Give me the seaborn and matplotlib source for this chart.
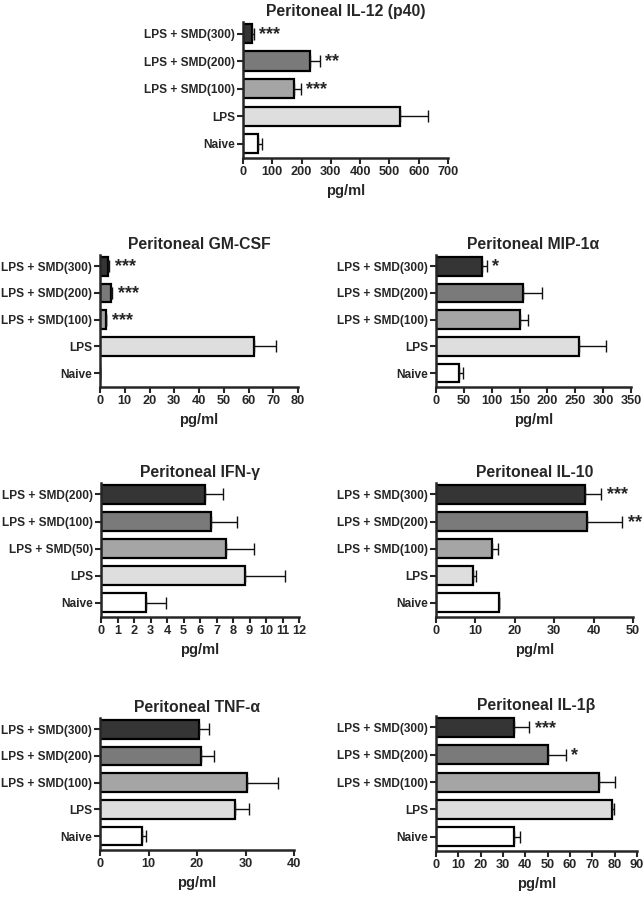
import matplotlib
matplotlib.use("Agg")
import numpy as np
import matplotlib.pyplot as plt
import seaborn as sns

sns.set_theme(style="ticks")
plt.rcParams['font.family'] = ['Liberation Sans', 'DejaVu Sans']
plt.rcParams['font.weight'] = 'bold'

# group names (top to bottom)
groups_smd = ['LPS + SMD(300)', 'LPS + SMD(200)', 'LPS + SMD(100)', 'LPS', 'Naive']
groups_ifn = ['LPS + SMD(200)', 'LPS + SMD(100)', 'LPS + SMD(50)', 'LPS', 'Naive']
bar_colors = ['#353535', '#7a7a7a', '#a5a5a5', '#dedede', '#ffffff']

# values (pg/ml), with upper SEM
il12_vals = [32, 230, 173, 535, 51]
il12_err = [4, 32, 24, 96, 15]
il12_stars = ['***', '**', '***', '', '']

gmcsf_vals = [3.4, 4.5, 2.3, 62.3, 0]
gmcsf_err = [0.4, 0.4, 0.3, 8.7, 0]
gmcsf_stars = ['***', '***', '***', '', '']

mip_vals = [82.6, 157, 150, 257, 40.7]
mip_err = [8.5, 33, 14.5, 48, 8.5]
mip_stars = ['*', '', '', '', '']

ifn_vals = [6.32, 6.67, 7.6, 8.75, 2.75]
ifn_err = [1.05, 1.6, 1.65, 2.4, 1.2]
ifn_stars = ['', '', '', '', '']

il10_vals = [37.9, 38.3, 14.2, 9.5, 16.0]
il10_err = [4.0, 8.9, 1.5, 0.7, 0]
il10_stars = ['***', '**', '', '', '']

tnf_vals = [20.4, 20.9, 30.3, 27.9, 8.7]
tnf_err = [2.0, 2.6, 6.4, 2.8, 0.7]
tnf_stars = ['', '', '', '', '']

il1b_vals = [34.9, 50.2, 73.0, 79.0, 35.0]
il1b_err = [6.8, 7.9, 7.2, 0.6, 2.5]
il1b_stars = ['***', '*', '', '', '']

W, H = 644, 900
fig = plt.figure(figsize=(W / 100, H / 100), dpi=100)

panels = [
    ('Peritoneal IL-12 (p40)', groups_smd, il12_vals, il12_err, il12_stars, 700, 100, (243, 22, 448, 158)),
    ('Peritoneal GM-CSF', groups_smd, gmcsf_vals, gmcsf_err, gmcsf_stars, 80, 10, (100, 255, 298, 387)),
    ('Peritoneal MIP-1α', groups_smd, mip_vals, mip_err, mip_stars, 350, 50, (436, 255, 631, 387)),
    ('Peritoneal IFN-γ', groups_ifn, ifn_vals, ifn_err, ifn_stars, 12, 1, (101, 483, 299, 617)),
    ('Peritoneal IL-10', groups_smd, il10_vals, il10_err, il10_stars, 50, 10, (436, 483, 633, 617)),
    ('Peritoneal TNF-α', groups_smd, tnf_vals, tnf_err, tnf_stars, 40, 10, (100, 718, 294, 850)),
    ('Peritoneal IL-1β', groups_smd, il1b_vals, il1b_err, il1b_stars, 90, 10, (436, 716, 637, 851)),
]

for title, groups, vals, errs, stars, xmax, step, (l, t, r, b) in panels:
    ax = fig.add_axes([l / W, 1 - b / H, (r - l) / W, (b - t) / H])
    sns.barplot(x=vals, y=groups, hue=groups, palette=bar_colors, legend=False,
                orient='h', width=0.7, edgecolor='black', linewidth=1.6, ax=ax)
    ypos = np.arange(len(vals))
    ax.errorbar(vals, ypos, xerr=[np.zeros(len(errs)), errs], fmt='none',
                ecolor='#111111', elinewidth=1.0, capsize=4, capthick=1.0)
    for i, s in enumerate(stars):
        if s:
            ax.annotate(s, xy=(vals[i] + errs[i], i), xytext=(4, -0.5),
                        textcoords='offset points', ha='left', va='center',
                        fontsize=13, fontweight='bold')
    ax.set_xlim(0, xmax)
    ax.set_xticks(np.arange(0, xmax + step / 2, step))
    ax.set_ylim(len(vals) - 0.48, -0.42)
    ax.set_title(title, fontsize=11.3, fontweight='bold', pad=4)
    ax.set_xlabel('pg/ml', fontsize=10.5, fontweight='bold', labelpad=4)
    ax.set_ylabel('')
    sns.despine(ax=ax)
    for sp in ['left', 'bottom']:
        ax.spines[sp].set_linewidth(1.8)
    ax.tick_params(axis='both', direction='out', length=4, width=1.5, pad=2)
    ax.tick_params(axis='x', labelsize=9.2)
    ax.tick_params(axis='y', labelsize=8.6, pad=1.5)
    for lab in ax.get_xticklabels() + ax.get_yticklabels():
        lab.set_fontweight('bold')

fig.savefig('out.png', dpi=100)
